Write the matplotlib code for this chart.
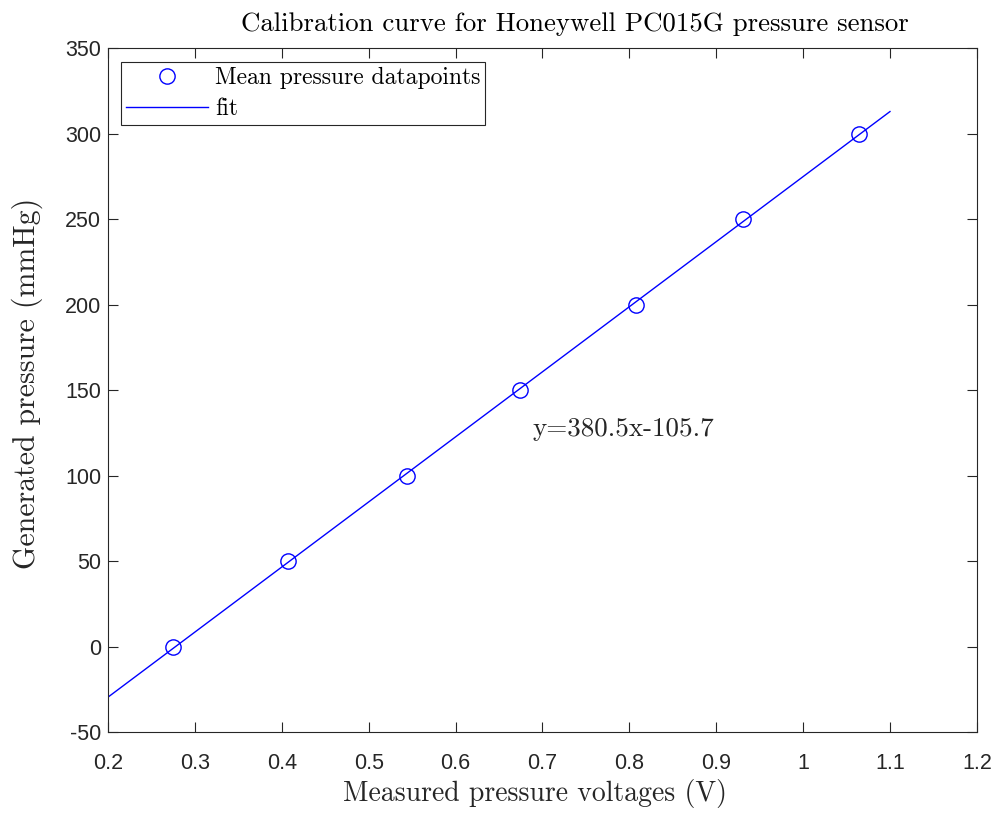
import matplotlib
matplotlib.use("Agg")
import matplotlib.pyplot as plt
import numpy as np

# Calibration data
voltages = [0.275, 0.407, 0.544, 0.674, 0.808, 0.931, 1.064]
pressures = [0, 50, 100, 150, 200, 250, 300]
slope = 380.5
intercept = -105.7
fit_range = [0.2, 1.1]
xticks = [0.2, 0.3, 0.4, 0.5, 0.6, 0.7, 0.8, 0.9, 1.0, 1.1, 1.2]
xticklabels = ["0.2", "0.3", "0.4", "0.5", "0.6", "0.7", "0.8", "0.9", "1", "1.1", "1.2"]
yticks = [-50, 0, 50, 100, 150, 200, 250, 300, 350]

serif = ["cmr10", "DejaVu Serif"]
sans = ["Liberation Sans", "DejaVu Sans"]
dark = "#262626"

fig = plt.figure(figsize=(10.01, 8.14), dpi=100)
ax = fig.add_axes([0.1079, 0.1007, 0.868, 0.8403])

xf = np.array(fit_range)
ax.plot(voltages, pressures, "o", color="blue", markerfacecolor="none",
        markersize=11, markeredgewidth=1.0, label="Mean pressure datapoints")
ax.plot(xf, slope * xf + intercept, "-", color="blue", linewidth=1.0, label="fit")

ax.set_xlim(0.2, 1.2)
ax.set_ylim(-50, 350)
ax.set_xticks(xticks)
ax.set_xticklabels(xticklabels)
ax.set_yticks(yticks)
ax.set_yticklabels([str(v) for v in yticks])

ax.tick_params(direction="in", top=True, right=True, length=7, width=0.8,
               colors=dark, labelsize=15.5)
ax.tick_params(axis="x", pad=15)
ax.tick_params(axis="y", pad=5)
for lab in ax.get_xticklabels() + ax.get_yticklabels():
    lab.set_fontfamily(sans)
for sp in ax.spines.values():
    sp.set_color(dark)
    sp.set_linewidth(0.8)

ax.set_title("Calibration curve for Honeywell PC015G pressure sensor",
             family=serif, fontsize=19.3, color="black", pad=12, x=0.537)
ax.set_xlabel("Measured pressure voltages (V)", family=serif, fontsize=20,
              color=dark, labelpad=4, x=0.492)
ax.set_ylabel("Generated pressure (mmHg)", family=serif, fontsize=21.5,
              color=dark, labelpad=16, y=0.51)

ax.text(0.689, 127, "y=380.5x-105.7", family=serif, fontsize=19.5,
        color=dark, ha="left", va="center")

leg = ax.legend(loc="upper left", bbox_to_anchor=(0.0149, 0.979),
                prop={"family": serif, "size": 17}, frameon=True,
                fancybox=False, edgecolor=dark, framealpha=1,
                handlelength=3.5, borderaxespad=0, borderpad=0.2,
                labelspacing=0.38, handletextpad=0.3)
leg.get_frame().set_linewidth(0.8)

fig.savefig("out.png", dpi=100)
